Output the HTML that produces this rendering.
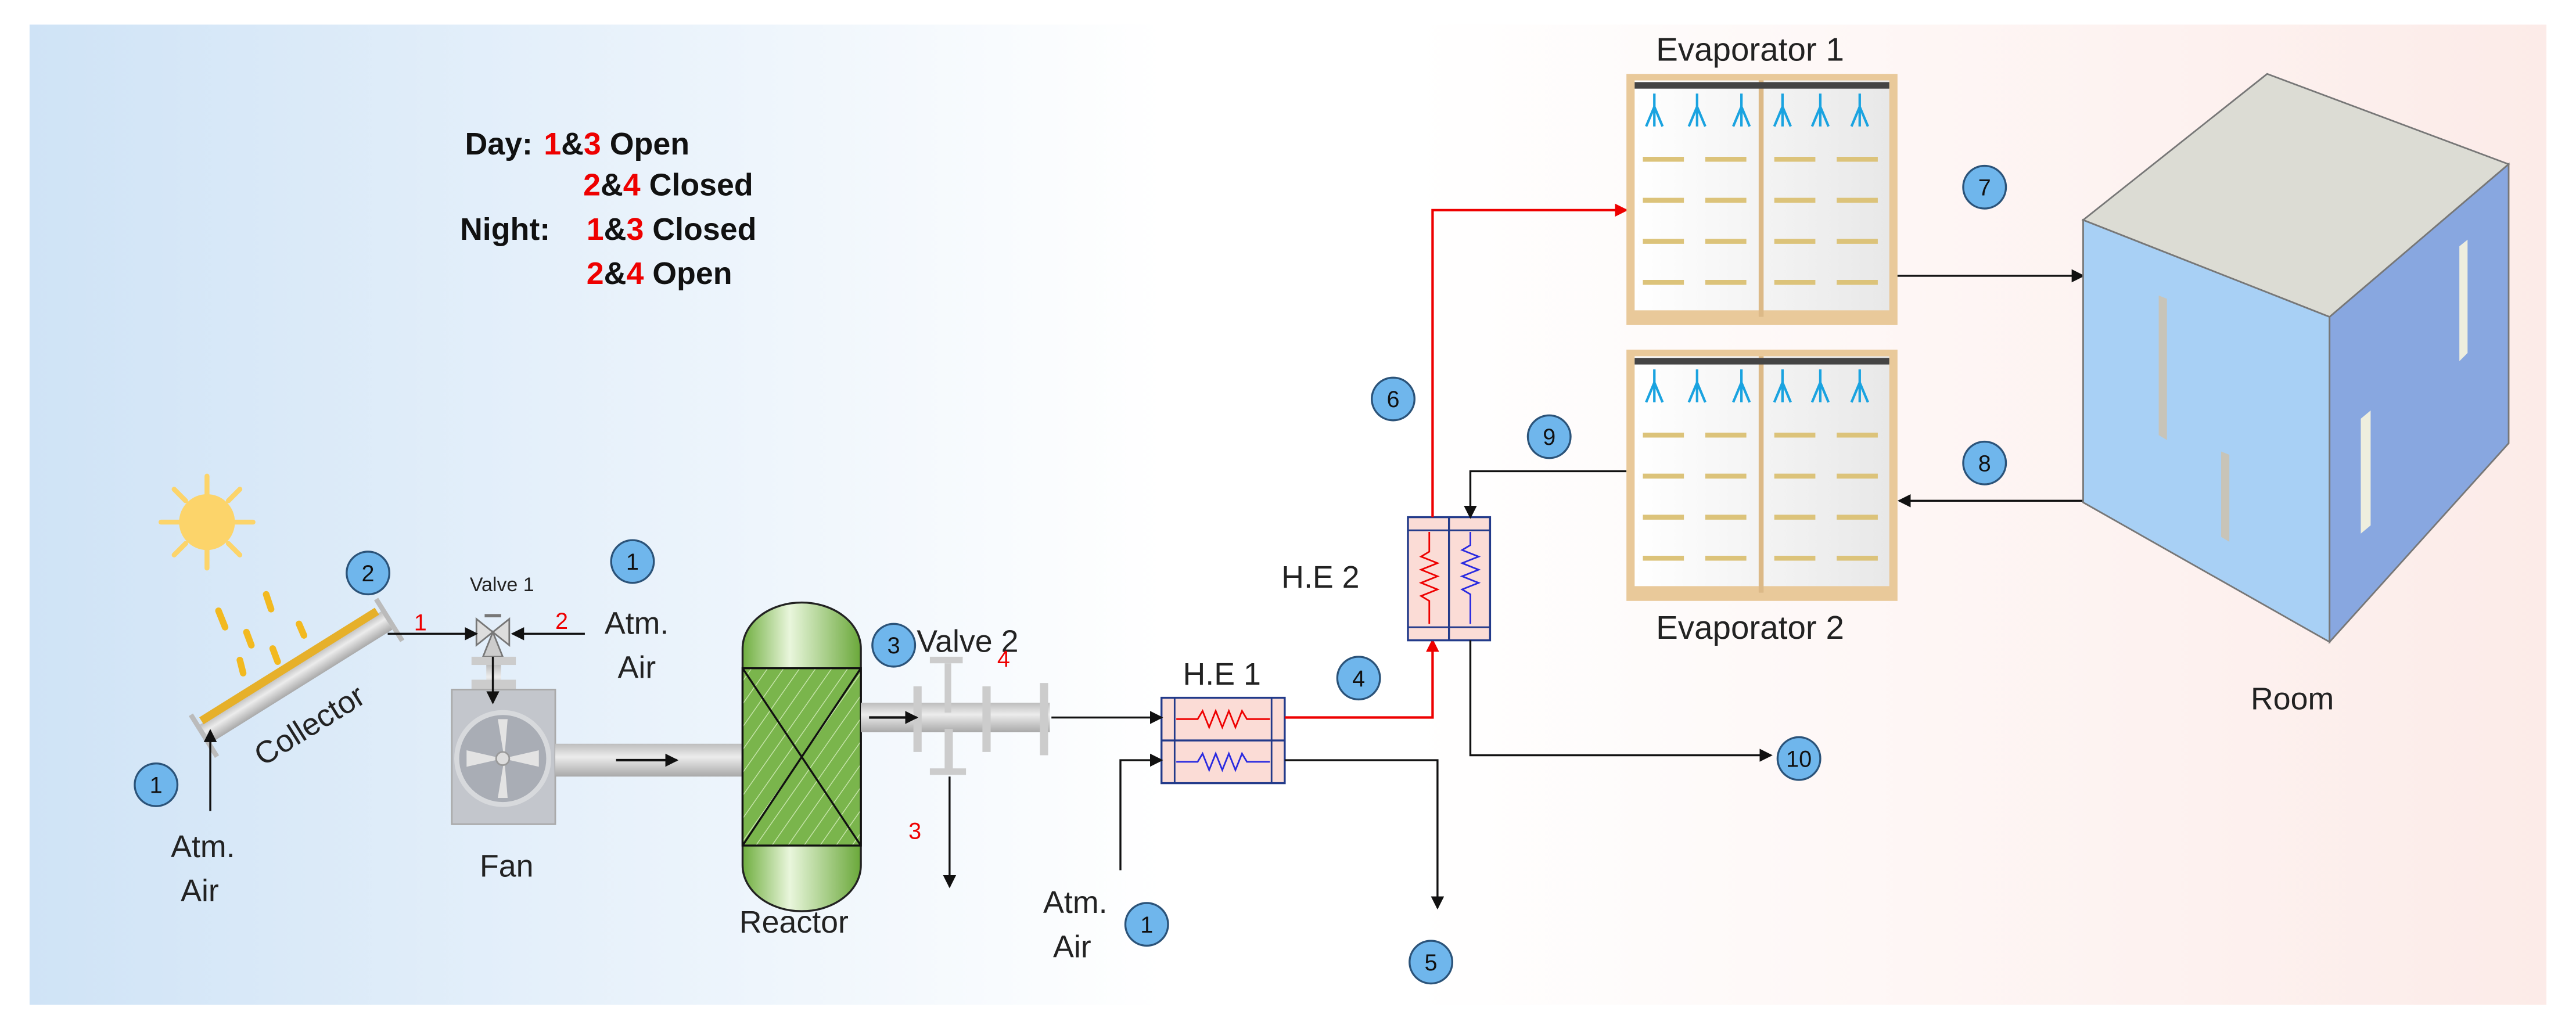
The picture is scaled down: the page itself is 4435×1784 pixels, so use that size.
<!DOCTYPE html>
<html><head><meta charset="utf-8"><style>
html,body{margin:0;padding:0;background:#fff}
svg{display:block}
text{font-family:"Liberation Sans",Arial,sans-serif}
</style></head><body>
<svg width="4435" height="1784" viewBox="0 0 1568 631" preserveAspectRatio="none" xmlns="http://www.w3.org/2000/svg">
<defs>
<linearGradient id="bg" x1="0" x2="1" y1="0" y2="0">
<stop offset="0" stop-color="#cfe3f6"/><stop offset="0.45" stop-color="#ffffff"/><stop offset="0.55" stop-color="#ffffff"/><stop offset="1" stop-color="#fcebe8"/>
</linearGradient>
<linearGradient id="pipe" x1="0" x2="0" y1="0" y2="1">
<stop offset="0" stop-color="#bdbdbd"/><stop offset="0.4" stop-color="#ececec"/><stop offset="1" stop-color="#a9a9a9"/>
</linearGradient>
<linearGradient id="green" x1="0" x2="1">
<stop offset="0" stop-color="#6fae3e"/><stop offset="0.4" stop-color="#e9f6dc"/><stop offset="1" stop-color="#6aa83a"/>
</linearGradient>
<linearGradient id="panel" x1="0" x2="1">
<stop offset="0" stop-color="#ffffff"/><stop offset="1" stop-color="#e8e8e8"/>
</linearGradient>
<pattern id="hatch" width="8" height="8" patternUnits="userSpaceOnUse" patternTransform="rotate(35)">
<rect width="8" height="8" fill="#7ab54c"/><line x1="0" y1="0" x2="0" y2="8" stroke="#c9e6ae" stroke-width="1"/>
</pattern>
<marker id="ab" markerWidth="8" markerHeight="8" refX="7" refY="4" orient="auto" markerUnits="userSpaceOnUse"><path d="M0,0 L8,4 L0,8 z" fill="#111"/></marker>
<marker id="ar" markerWidth="8" markerHeight="8" refX="7" refY="4" orient="auto" markerUnits="userSpaceOnUse"><path d="M0,0 L8,4 L0,8 z" fill="#e00"/></marker>
<g id="evap">
<rect x="0" y="0" width="165" height="153" fill="#e9c99a"/>
<rect x="5" y="4" width="155" height="140" fill="url(#panel)"/>
<line x1="82" y1="4" x2="82" y2="148" stroke="#dcb987" stroke-width="3"/>
<rect x="5" y="5" width="155" height="4" fill="#444"/>
<g stroke="#1aa3e0" stroke-width="1.5" fill="none">
<path d="M17,12 v12 M17,20 l-5,12 M17,20 l0,12 M17,20 l5,12"/>
<path d="M43,12 v12 M43,20 l-5,12 M43,20 l0,12 M43,20 l5,12"/>
<path d="M70,12 v12 M70,20 l-5,12 M70,20 l0,12 M70,20 l5,12"/>
<path d="M95,12 v12 M95,20 l-5,12 M95,20 l0,12 M95,20 l5,12"/>
<path d="M118,12 v12 M118,20 l-5,12 M118,20 l0,12 M118,20 l5,12"/>
<path d="M142,12 v12 M142,20 l-5,12 M142,20 l0,12 M142,20 l5,12"/>
</g>
<g stroke="#dcc37a" stroke-width="3">
<path d="M10,52h25M48,52h25M90,52h25M128,52h25"/>
<path d="M10,77h25M48,77h25M90,77h25M128,77h25"/>
<path d="M10,102h25M48,102h25M90,102h25M128,102h25"/>
<path d="M10,127h25M48,127h25M90,127h25M128,127h25"/>
</g>
</g>
<g id="c"><circle r="13" fill="#6fb6ec" stroke="#2b5379" stroke-width="1.2"/></g>
</defs>

<rect width="1568" height="631" fill="#fff"/>
<rect x="18" y="15" width="1532" height="597" fill="url(#bg)"/>

<g font-weight="bold" font-size="19" fill="#111">
<text x="283" y="94">Day:</text>
<text x="331" y="94"><tspan fill="#e00">1</tspan>&amp;<tspan fill="#e00">3</tspan> Open</text>
<text x="355" y="119"><tspan fill="#e00">2</tspan>&amp;<tspan fill="#e00">4</tspan> Closed</text>
<text x="280" y="146">Night:</text>
<text x="357" y="146"><tspan fill="#e00">1</tspan>&amp;<tspan fill="#e00">3</tspan> Closed</text>
<text x="357" y="173"><tspan fill="#e00">2</tspan>&amp;<tspan fill="#e00">4</tspan> Open</text>
</g>

<g stroke="#fcd46a" stroke-width="3" stroke-linecap="round">
<path d="M126,290v12M126,334v12M98,318h12M142,318h12M106,298l7,7M146,298l-7,7M106,338l7,-7M146,338l-7,-7"/>
</g>
<circle cx="126" cy="318" r="17" fill="#fcd46a"/>
<g stroke="#f2b920" stroke-width="4" stroke-linecap="round">
<path d="M133,372l4,10M162,362l3,9M150,385l3,8M166,395l3,8M146,402l2,8M182,380l3,7M153,420l2,8"/>
</g>

<g transform="translate(180,412) rotate(-32)">
<rect x="-65" y="-6" width="130" height="13" fill="url(#pipe)"/>
<rect x="-63" y="-10" width="126" height="5" fill="#e6b02a"/>
<rect x="-68" y="-14" width="3" height="30" fill="#bbb"/>
<rect x="65" y="-14" width="3" height="30" fill="#bbb"/>
</g>
<text x="0" y="0" font-size="19" fill="#222" transform="translate(160,467) rotate(-32)">Collector</text>

<text x="286" y="360" font-size="12" fill="#222">Valve 1</text>
<path d="M290,377 L310,393 L310,377 L290,393 z" fill="#ddd" stroke="#777" stroke-width="1"/>
<path d="M300,385 L294,400 L306,400 z" fill="#ccc" stroke="#777" stroke-width="1"/>
<rect x="295" y="374" width="10" height="2" fill="#777"/>
<rect x="287" y="400" width="27" height="5" fill="#ccc"/>
<rect x="296" y="405" width="9" height="18" fill="url(#pipe)"/>
<rect x="287" y="414" width="27" height="7" fill="#ccc"/>
<rect x="275" y="420" width="63" height="82" fill="#c3c6cc" stroke="#aaa"/>
<circle cx="306" cy="462" r="28" fill="#a9adb5" stroke="#d7d9dc" stroke-width="3"/>
<path d="M303,438 h6 l-2,24 z M303,486 h6 l-2,-24 z M284,457 v10 l22,-5 z M328,457 v10 l-22,-5 z" fill="#e3e3e3"/>
<circle cx="306" cy="462" r="4" fill="#ddd" stroke="#999"/>
<text x="292" y="534" font-size="19" fill="#222">Fan</text>
<rect x="338" y="453" width="115" height="20" fill="url(#pipe)"/>
<line x1="375" y1="463" x2="412" y2="463" stroke="#111" stroke-width="1.5" marker-end="url(#ab)"/>

<rect x="452" y="367" width="72" height="188" rx="36" ry="28" fill="url(#green)" stroke="#222" stroke-width="1.2"/>
<rect x="452" y="407" width="72" height="108" fill="url(#hatch)" stroke="#111" stroke-width="1.2"/>
<path d="M452,407 L524,515 M524,407 L452,515" stroke="#111" stroke-width="1.2"/>
<text x="450" y="568" font-size="19" fill="#222">Reactor</text>

<rect x="524" y="428" width="115" height="18" fill="url(#pipe)"/>
<rect x="556" y="418" width="5" height="40" fill="#ccc"/>
<rect x="598" y="418" width="5" height="40" fill="#ccc"/>
<rect x="633" y="416" width="5" height="44" fill="#ccc"/>
<rect x="575" y="404" width="4" height="30" fill="#ccc"/>
<rect x="566" y="400" width="20" height="4" fill="#ccc"/>
<rect x="575" y="444" width="5" height="26" fill="#ccc"/>
<rect x="566" y="468" width="22" height="4" fill="#ccc"/>
<text x="558" y="397" font-size="19" fill="#222">Valve 2</text>
<line x1="529" y1="437" x2="558" y2="437" stroke="#111" stroke-width="1.5" marker-end="url(#ab)"/>
<line x1="578" y1="473" x2="578" y2="540" stroke="#111" stroke-width="1.2" marker-end="url(#ab)"/>
<text x="553" y="511" font-size="14" fill="#e00">3</text>
<text x="607" y="406" font-size="14" fill="#e00">4</text>

<line x1="128" y1="494" x2="128" y2="445" stroke="#111" stroke-width="1.2" marker-end="url(#ab)"/>
<text x="104" y="522" font-size="19" fill="#222">Atm.</text>
<text x="110" y="549" font-size="19" fill="#222">Air</text>
<line x1="236" y1="386" x2="290" y2="386" stroke="#111" stroke-width="1.2" marker-end="url(#ab)"/>
<text x="252" y="384" font-size="14" fill="#e00">1</text>
<text x="338" y="383" font-size="14" fill="#e00">2</text>
<line x1="356" y1="386" x2="312" y2="386" stroke="#111" stroke-width="1.2" marker-end="url(#ab)"/>
<text x="368" y="386" font-size="19" fill="#222">Atm.</text>
<text x="376" y="413" font-size="19" fill="#222">Air</text>
<line x1="300" y1="400" x2="300" y2="428" stroke="#111" stroke-width="1.2" marker-end="url(#ab)"/>

<text x="720" y="417" font-size="19" fill="#222">H.E 1</text>
<rect x="707" y="425" width="75" height="52" fill="#fbdcd6" stroke="#223a8a" stroke-width="1.2"/>
<line x1="707" y1="451" x2="782" y2="451" stroke="#223a8a" stroke-width="1.2"/>
<line x1="715" y1="425" x2="715" y2="477" stroke="#223a8a"/>
<line x1="774" y1="425" x2="774" y2="477" stroke="#223a8a"/>
<path d="M716,438 h13 l3,-5 l4,10 l4,-10 l4,10 l4,-10 l4,10 l4,-10 l3,5 h14" stroke="#e00" fill="none"/>
<path d="M716,464 h13 l3,-5 l4,10 l4,-10 l4,10 l4,-10 l4,10 l4,-10 l3,5 h14" stroke="#2a2ae0" fill="none"/>
<line x1="640" y1="437" x2="707" y2="437" stroke="#111" stroke-width="1.2" marker-end="url(#ab)"/>
<polyline points="682,530 682,463 707,463" fill="none" stroke="#111" stroke-width="1.2" marker-end="url(#ab)"/>
<text x="635" y="556" font-size="19" fill="#222">Atm.</text>
<text x="641" y="583" font-size="19" fill="#222">Air</text>
<polyline points="782,437 872,437 872,390" fill="none" stroke="#e00" stroke-width="1.5" marker-end="url(#ar)"/>
<polyline points="782,463 875,463 875,553" fill="none" stroke="#111" stroke-width="1.2" marker-end="url(#ab)"/>

<text x="780" y="358" font-size="19" fill="#222">H.E 2</text>
<rect x="857" y="315" width="50" height="75" fill="#fbdcd6" stroke="#223a8a" stroke-width="1.2"/>
<line x1="882" y1="315" x2="882" y2="390" stroke="#223a8a" stroke-width="1.2"/>
<line x1="857" y1="323" x2="907" y2="323" stroke="#223a8a"/>
<line x1="857" y1="382" x2="907" y2="382" stroke="#223a8a"/>
<path d="M870,324 v12 l-5,3 l10,4 l-10,4 l10,4 l-10,4 l10,4 l-10,4 l5,3 v14" stroke="#e00" fill="none"/>
<path d="M895,324 v8 l-5,3 l10,4 l-10,4 l10,4 l-10,4 l10,4 l-10,4 l5,3 v18" stroke="#2a2ae0" fill="none"/>
<polyline points="872,315 872,128 990,128" fill="none" stroke="#e00" stroke-width="1.5" marker-end="url(#ar)"/>
<polyline points="990,287 895,287 895,315" fill="none" stroke="#111" stroke-width="1.2" marker-end="url(#ab)"/>
<polyline points="895,390 895,460 1078,460" fill="none" stroke="#111" stroke-width="1.2" marker-end="url(#ab)"/>

<use href="#evap" x="990" y="45"/>
<use href="#evap" x="990" y="213"/>
<text x="1008" y="37" font-size="20" fill="#222">Evaporator 1</text>
<text x="1008" y="389" font-size="20" fill="#222">Evaporator 2</text>
<line x1="1155" y1="168" x2="1268" y2="168" stroke="#111" stroke-width="1.2" marker-end="url(#ab)"/>
<line x1="1268" y1="305" x2="1156" y2="305" stroke="#111" stroke-width="1.2" marker-end="url(#ab)"/>

<polygon points="1268,134 1380,45 1527,100 1418,193" fill="#dcdcd4" stroke="#777" stroke-width="1"/>
<polygon points="1268,134 1418,193 1418,391 1268,306" fill="#a8d0f5" stroke="#777" stroke-width="1"/>
<polygon points="1418,193 1527,100 1527,270 1418,391" fill="#88a7e0" stroke="#777" stroke-width="1"/>
<polygon points="1314,180 1319,182 1319,268 1314,265" fill="#c8c4b8"/>
<polygon points="1352,275 1357,277 1357,330 1352,327" fill="#c8c4b8"/>
<polygon points="1497,150 1502,146 1502,215 1497,220" fill="#eeeede"/>
<polygon points="1437,255 1443,250 1443,320 1437,325" fill="#eeeede"/>
<text x="1370" y="432" font-size="19" fill="#222">Room</text>

<g font-size="14" fill="#111" text-anchor="middle">
<use href="#c" x="95" y="478"/><text x="95" y="483">1</text>
<use href="#c" x="224" y="349"/><text x="224" y="354">2</text>
<use href="#c" x="385" y="342"/><text x="385" y="347">1</text>
<use href="#c" x="544" y="393"/><text x="544" y="398">3</text>
<use href="#c" x="698" y="563"/><text x="698" y="568">1</text>
<use href="#c" x="827" y="413"/><text x="827" y="418">4</text>
<use href="#c" x="871" y="586"/><text x="871" y="591">5</text>
<use href="#c" x="848" y="243"/><text x="848" y="248">6</text>
<use href="#c" x="943" y="266"/><text x="943" y="271">9</text>
<use href="#c" x="1208" y="114"/><text x="1208" y="119">7</text>
<use href="#c" x="1208" y="282"/><text x="1208" y="287">8</text>
<use href="#c" x="1095" y="462"/><text x="1095" y="467">10</text>
</g>
</svg>
</body></html>
